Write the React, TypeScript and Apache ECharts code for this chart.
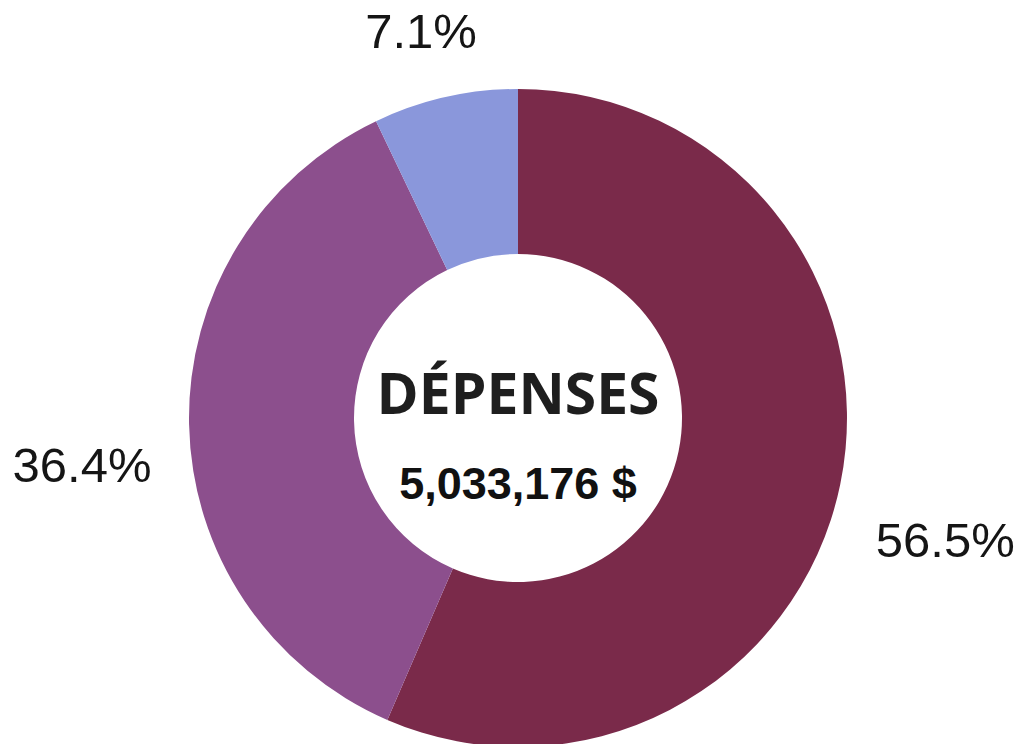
import React, { useEffect, useRef } from "react";
import * as echarts from "echarts";

const categories = ["Catégorie A", "Catégorie B", "Catégorie C"];
const values = [56.5, 36.4, 7.1];
const colors = ["#7a2a4a", "#8c4f8d", "#8a97db"];
const centerTitle = "DÉPENSES";
const centerTotal = "5,033,176 $";

const CX = 518;
const CY = 418;
const R_IN = 164;
const R_OUT = 329;
const LABEL_R = 420;
const labelShift = [
  [16, 37],
  [-16, 39],
  [-4, 23],
];

export default function App() {
  const ref = useRef<HTMLDivElement>(null);
  useEffect(() => {
    if (!ref.current) return;
    const chart = echarts.init(ref.current, undefined, { renderer: "svg" });
    const total = values.reduce((a, b) => a + b, 0);
    const mids: number[] = [];
    let acc = 0;
    values.forEach((v) => {
      mids.push(((acc + v / 2) / total) * Math.PI * 2);
      acc += v;
    });
    chart.setOption({
      animation: false,
      backgroundColor: "#ffffff",
      series: [
        {
          type: "pie",
          center: [CX, CY],
          radius: [R_IN, R_OUT],
          startAngle: 90,
          clockwise: true,
          silent: true,
          avoidLabelOverlap: false,
          itemStyle: { borderWidth: 0 },
          label: {
            show: true,
            position: "outside",
            overflow: "none",
            edgeDistance: 0,
            formatter: (p: any) => p.value.toFixed(1) + "%",
            fontFamily: "Liberation Sans, Arial, sans-serif",
            fontSize: 49,
            color: "#151515",
          },
          labelLine: { show: false },
          labelLayout: (params: any) => {
            const i = params.dataIndex;
            const a = mids[i];
            return {
              x: CX + LABEL_R * Math.sin(a) + labelShift[i][0],
              y: CY - LABEL_R * Math.cos(a) + labelShift[i][1],
              align: "center",
              verticalAlign: "middle",
            };
          },
          data: categories.map((name, i) => ({
            name,
            value: values[i],
            itemStyle: { color: colors[i] },
          })),
        },
      ],
      graphic: [
        {
          type: "text",
          x: CX,
          y: 392,
          style: {
            text: centerTitle,
            fontFamily: "Open Sans, sans-serif",
            fontWeight: "bold",
            fontSize: 57,
            fill: "#1e1e1e",
            align: "center",
            verticalAlign: "middle",
          },
        },
        {
          type: "text",
          x: CX,
          y: 483,
          style: {
            text: centerTotal,
            fontFamily: "Liberation Sans, Arial, sans-serif",
            fontWeight: "bold",
            fontSize: 45,
            fill: "#111111",
            align: "center",
            verticalAlign: "middle",
          },
        },
      ],
    });
    return () => chart.dispose();
  }, []);
  return (
    <div
      ref={ref}
      style={{ position: "fixed", left: 0, top: 0, width: 1021, height: 744 }}
    />
  );
}
